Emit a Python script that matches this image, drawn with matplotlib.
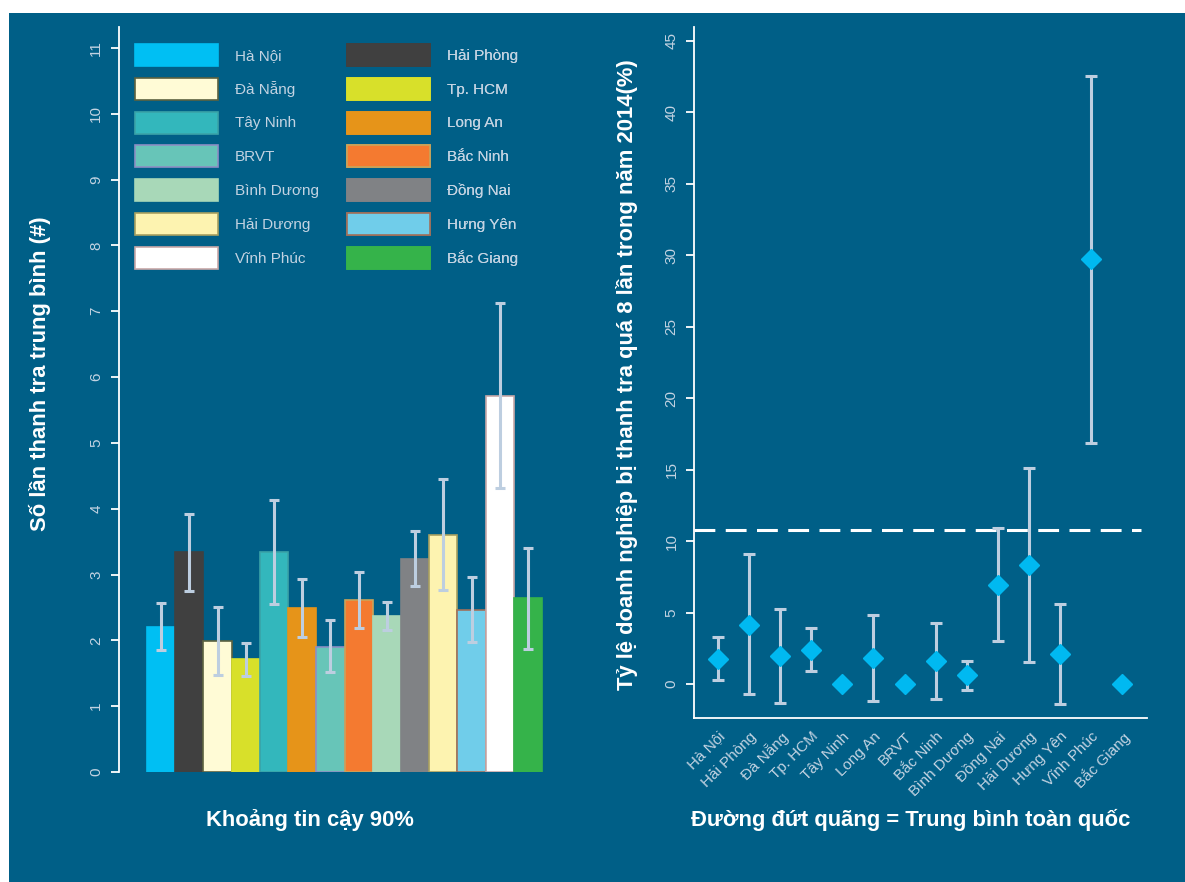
import matplotlib
matplotlib.use("Agg")
import matplotlib.pyplot as plt
from matplotlib.patches import Rectangle
import numpy as np

# provinces, same order in both panels
provinces = ["Hà Nội", "Hải Phòng", "Đà Nẵng", "Tp. HCM", "Tây Ninh", "Long An", "BRVT",
             "Bắc Ninh", "Bình Dương", "Đồng Nai", "Hải Dương", "Hưng Yên", "Vĩnh Phúc", "Bắc Giang"]

# left panel: mean number of inspections with 90% CI
insp_mean = [2.21, 3.34, 1.99, 1.71, 3.34, 2.49, 1.90, 2.61, 2.37, 3.23, 3.60, 2.46, 5.71, 2.64]
insp_lo = [1.85, 2.75, 1.47, 1.46, 2.55, 2.05, 1.52, 2.19, 2.16, 2.82, 2.76, 1.98, 4.31, 1.87]
insp_hi = [2.57, 3.92, 2.50, 1.96, 4.14, 2.94, 2.31, 3.04, 2.59, 3.66, 4.45, 2.96, 7.12, 3.40]

bar_colors = ["#00BFF3", "#404040", "#FFFBD6", "#D8E02A", "#33B7BC", "#E69419", "#67C5B8",
              "#F47A30", "#A8D8B8", "#808285", "#FDF3B0", "#70CDEA", "#FFFFFF", "#35B34A"]
bar_edges = ["#00BFF3", "#404040", "#5C6240", "#D8E02A", "#3AA3A8", "#E69419", "#8C8FC4",
             "#C9A45A", "#A8D8B8", "#808285", "#A8A060", "#A0705A", "#C8A8A8", "#35B34A"]

# right panel: share of firms inspected more than 8 times in 2014 (%)
share_mean = [1.76, 4.14, 1.97, 2.39, 0.0, 1.81, 0.0, 1.60, 0.62, 6.94, 8.31, 2.09, 29.71, 0.0]
share_lo = [0.29, -0.73, -1.31, 0.90, np.nan, -1.22, np.nan, -1.08, -0.43, 3.00, 1.53, -1.41, 16.85, np.nan]
share_hi = [3.28, 9.08, 5.26, 3.91, np.nan, 4.86, np.nan, 4.30, 1.62, 10.92, 15.10, 5.59, 42.55, np.nan]
national_mean = 10.78

BG = "#005F87"
ERR = "#BDCEE0"
TICK_TXT = "#C3D3E2"

plt.rcParams["font.family"] = ["Liberation Sans", "DejaVu Sans"]
plt.rcParams["lines.scale_dashes"] = False

W, H = 1185, 882
fig = plt.figure(figsize=(W / 100, H / 100), dpi=100, facecolor="white")
fig.patches.append(Rectangle((9 / W, 0), 1 - 9 / W, (H - 13) / H, transform=fig.transFigure,
                             facecolor=BG, edgecolor="none", zorder=-10))


def rect(x0, y0, x1, y1):
    # pixel box (top-left origin) -> figure fraction
    return [x0 / W, (H - y1) / H, (x1 - x0) / W, (y1 - y0) / H]


x = np.arange(1, len(provinces) + 1)

# ---- left panel: bars ----
ax1 = fig.add_axes(rect(118.6, 27, 570, 772))
ax1.set_facecolor("none")
bars = ax1.bar(x, insp_mean, width=1.0, color=bar_colors, edgecolor=bar_edges, linewidth=1.2, zorder=2)
m = np.array(insp_mean)
ax1.errorbar(x, m, yerr=[m - np.array(insp_lo), np.array(insp_hi) - m], fmt="none",
             ecolor=ERR, elinewidth=2.2, capsize=3.8, capthick=2.2, zorder=3)
ax1.set_xlim(-0.507, 15.49)
ax1.set_ylim(0, 11.32)
ax1.set_yticks(range(0, 12))
ax1.set_xticks([])
for s in ["top", "right", "bottom"]:
    ax1.spines[s].set_visible(False)
ax1.spines["left"].set_color("white")
ax1.spines["left"].set_linewidth(1.3)
ax1.tick_params(axis="y", colors="white", labelcolor=TICK_TXT, length=6, width=1.3,
                labelsize=11, labelrotation=90, pad=5)
for lab in ax1.get_yticklabels():
    lab.set_va("center")

# legend: two columns, filled row by row like the bars
handles = list(bars.patches)
for col, x0 in enumerate([135, 347]):
    idx = list(range(col, len(provinces), 2))
    leg = ax1.legend([handles[i] for i in idx], [provinces[i] for i in idx],
                     loc="upper left", bbox_to_anchor=(x0 / W, (H - 44) / H),
                     bbox_transform=fig.transFigure, frameon=False, fontsize=11,
                     handlelength=5.4, handleheight=1.84, handletextpad=1.15,
                     labelspacing=0.77, borderpad=0, borderaxespad=0, labelcolor=TICK_TXT)
    ax1.add_artist(leg)

# ---- right panel: points with error bars ----
ax2 = fig.add_axes(rect(694, 27.3, 1146.6, 718.3))
ax2.set_facecolor("none")
sm = np.array(share_mean)
lo = np.array(share_lo)
hi = np.array(share_hi)
ok = ~np.isnan(lo)
ax2.errorbar(x[ok], sm[ok], yerr=[sm[ok] - lo[ok], hi[ok] - sm[ok]], fmt="none",
             ecolor=ERR, elinewidth=2.2, capsize=4, capthick=2.2, zorder=2)
ax2.plot(x, sm, linestyle="none", marker="D", markersize=10, color="#00B9F1", zorder=3)
ax2.axhline(national_mean, xmin=0, xmax=0.988, color="white", linewidth=2.2,
            dashes=(15, 7.5), zorder=1)
ax2.set_xlim(0.23, 14.78)
ax2.set_ylim(-2.4, 45.94)
ax2.set_yticks(range(0, 46, 5))
ax2.set_xticks(x)
ax2.set_xticklabels(provinces, rotation=45, ha="right", rotation_mode="anchor")
for s in ["top", "right"]:
    ax2.spines[s].set_visible(False)
for s in ["left", "bottom"]:
    ax2.spines[s].set_color("white")
    ax2.spines[s].set_linewidth(1.3)
ax2.tick_params(axis="y", colors="white", labelcolor=TICK_TXT, length=6, width=1.3,
                labelsize=11, labelrotation=90, pad=5)
for lab in ax2.get_yticklabels():
    lab.set_va("center")
ax2.tick_params(axis="x", length=0, labelcolor=TICK_TXT, labelsize=11, pad=8)

# ---- titles ----
title_kw = dict(color="white", fontsize=15.8, fontweight="bold", ha="center", va="center")
fig.text(40 / W, 1 - 374 / H, "Số lần thanh tra trung bình (#)", rotation=90, **title_kw)
fig.text(627 / W, 1 - 375 / H, "Tỷ lệ doanh nghiệp bị thanh tra quá 8 lần trong năm 2014(%)",
         rotation=90, **title_kw)
fig.text(310 / W, 1 - 820 / H, "Khoảng tin cậy 90%", **title_kw)
fig.text(911 / W, 1 - 820 / H, "Đường đứt quãng = Trung bình toàn quốc", **title_kw)

fig.savefig("out.png", dpi=100, facecolor=fig.get_facecolor())
